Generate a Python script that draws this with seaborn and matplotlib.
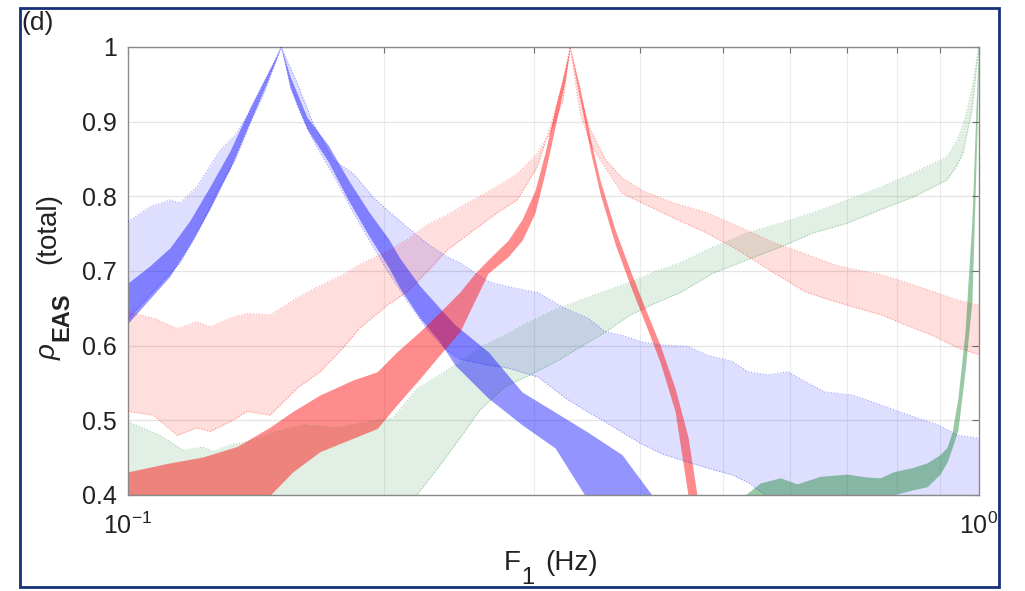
import numpy as np
import pandas as pd
import matplotlib
matplotlib.use("Agg")
import matplotlib.pyplot as plt
import seaborn as sns
from matplotlib.patches import Rectangle
from matplotlib.ticker import FixedLocator, NullFormatter

# ---------------- data ----------------
# blue, dark band
blue_dark_f = [0.1, 0.1061, 0.1120, 0.1183, 0.1248, 0.1318, 0.1391, 0.1449, 0.1513, 0.1550,
               0.1623, 0.1718, 0.1815, 0.1917, 0.2024, 0.2087, 0.2203, 0.2326, 0.2422, 0.2649,
               0.2904, 0.3176, 0.3471, 0.3806, 0.4127]
blue_dark_up = [0.684, 0.707, 0.731, 0.768, 0.813, 0.861, 0.919, 0.959, 1.0, 0.961,
                0.906, 0.869, 0.822, 0.780, 0.743, 0.717, 0.680, 0.650, 0.628, 0.592,
                0.538, 0.511, 0.484, 0.454, 0.400]
blue_dark_lo = [0.630, 0.663, 0.693, 0.736, 0.783, 0.837, 0.900, 0.947, 1.0, 0.945,
                0.890, 0.847, 0.795, 0.748, 0.705, 0.677, 0.637, 0.605, 0.574, 0.530,
                0.494, 0.463, 0.393, 0.353, 0.326]

# blue, light band
blue_light_f = [0.1, 0.1061, 0.1120, 0.1151, 0.1205, 0.1283, 0.1336, 0.1391, 0.1449, 0.1513,
                0.1580, 0.1650, 0.1742, 0.1838, 0.1941, 0.2016, 0.2128, 0.2246, 0.2371, 0.2455,
                0.2649, 0.2796, 0.3033, 0.3263, 0.3471, 0.3636, 0.3806, 0.4018, 0.4242, 0.4550,
                0.4803, 0.5126, 0.5353, 0.5651, 0.5965, 0.6245, 0.6592, 0.7092, 0.7486, 0.8034,
                0.8479, 0.8950, 0.9446, 1.0]
blue_light_up = [0.766, 0.786, 0.795, 0.791, 0.813, 0.862, 0.882, 0.913, 0.953, 1.0,
                 0.952, 0.898, 0.849, 0.831, 0.799, 0.782, 0.759, 0.737, 0.719, 0.711,
                 0.686, 0.679, 0.671, 0.650, 0.637, 0.619, 0.614, 0.605, 0.601, 0.599,
                 0.587, 0.579, 0.565, 0.561, 0.565, 0.552, 0.538, 0.534, 0.525, 0.512,
                 0.503, 0.494, 0.480, 0.476]
blue_light_lo = [0.636, 0.668, 0.697, 0.711, 0.750, 0.814, 0.849, 0.898, 0.942, 1.0,
                 0.922, 0.875, 0.829, 0.779, 0.732, 0.701, 0.660, 0.622, 0.593, 0.582,
                 0.574, 0.570, 0.558, 0.530, 0.511, 0.498, 0.484, 0.468, 0.455, 0.444,
                 0.436, 0.427, 0.417, 0.397, 0.380, 0.380, 0.380, 0.380, 0.380, 0.380,
                 0.380, 0.380, 0.380, 0.380]

# red, dark band
red_dark_f = [0.1, 0.1120, 0.1225, 0.1343, 0.1469, 0.1562, 0.1681, 0.1838, 0.1962, 0.2071,
              0.2203, 0.2326, 0.2455, 0.2557, 0.2649, 0.2796, 0.2904, 0.3008, 0.3090, 0.3176,
              0.3263, 0.3307, 0.3398, 0.3491, 0.3586, 0.3736, 0.3891, 0.4052, 0.4219, 0.4394,
              0.4550, 0.4663]
red_dark_up = [0.431, 0.443, 0.451, 0.465, 0.491, 0.512, 0.534, 0.554, 0.565, 0.592,
               0.619, 0.645, 0.672, 0.697, 0.715, 0.741, 0.769, 0.808, 0.858, 0.918,
               0.972, 1.0, 0.944, 0.879, 0.822, 0.755, 0.701, 0.650, 0.601, 0.543,
               0.478, 0.400]
red_dark_lo = [0.387, 0.391, 0.393, 0.396, 0.400, 0.431, 0.458, 0.476, 0.489, 0.521,
               0.556, 0.588, 0.619, 0.661, 0.697, 0.719, 0.741, 0.778, 0.831, 0.893,
               0.956, 1.0, 0.930, 0.862, 0.804, 0.736, 0.681, 0.630, 0.578, 0.512,
               0.400, 0.385]

# red, light band
red_light_f = [0.1, 0.1070, 0.1142, 0.1205, 0.1248, 0.1318, 0.1380, 0.1469, 0.1580, 0.1681,
               0.1789, 0.1874, 0.2016, 0.2128, 0.2246, 0.2371, 0.2523, 0.2714, 0.2865, 0.3025,
               0.3133, 0.3245, 0.3307, 0.3398, 0.3491, 0.3636, 0.3806, 0.4018, 0.4357, 0.4764,
               0.5211, 0.5711, 0.6245, 0.6775, 0.7210, 0.7691, 0.8185, 0.8806, 0.9446, 1.0]
red_light_up = [0.645, 0.637, 0.623, 0.632, 0.625, 0.637, 0.643, 0.641, 0.664, 0.680,
                0.695, 0.709, 0.726, 0.742, 0.762, 0.775, 0.793, 0.813, 0.830, 0.857,
                0.885, 0.929, 1.0, 0.933, 0.890, 0.850, 0.825, 0.808, 0.792, 0.779,
                0.760, 0.739, 0.723, 0.708, 0.701, 0.695, 0.685, 0.673, 0.661, 0.654]
red_light_lo = [0.512, 0.507, 0.480, 0.490, 0.485, 0.498, 0.512, 0.507, 0.543, 0.565,
                0.597, 0.624, 0.654, 0.672, 0.699, 0.728, 0.751, 0.778, 0.795, 0.839,
                0.893, 0.952, 1.0, 0.911, 0.871, 0.839, 0.804, 0.791, 0.772, 0.752,
                0.728, 0.699, 0.672, 0.659, 0.650, 0.641, 0.628, 0.614, 0.597, 0.588]

# green, light band
green_light_f = [0.1, 0.1090, 0.1161, 0.1225, 0.1259, 0.1318, 0.1380, 0.1488, 0.1606, 0.1760,
                 0.1962, 0.2048, 0.2185, 0.2326, 0.2455, 0.2592, 0.2773, 0.2968, 0.3176, 0.3398,
                 0.3636, 0.3891, 0.4163, 0.4453, 0.4868, 0.5339, 0.5839, 0.6384, 0.6998, 0.7655,
                 0.8365, 0.9172, 0.9424, 0.9577, 0.9707, 0.9812, 0.9947, 1.0]
green_light_up = [0.498, 0.480, 0.460, 0.464, 0.458, 0.467, 0.471, 0.484, 0.494, 0.490,
                  0.500, 0.503, 0.542, 0.561, 0.578, 0.598, 0.614, 0.632, 0.648, 0.661,
                  0.673, 0.685, 0.699, 0.711, 0.732, 0.751, 0.764, 0.778, 0.795, 0.812,
                  0.831, 0.853, 0.875, 0.896, 0.920, 0.945, 0.985, 1.0]
green_light_lo = [0.380, 0.380, 0.381, 0.382, 0.382, 0.383, 0.384, 0.385, 0.386, 0.387,
                  0.388, 0.391, 0.400, 0.440, 0.476, 0.514, 0.545, 0.561, 0.578, 0.598,
                  0.618, 0.641, 0.657, 0.671, 0.697, 0.715, 0.732, 0.751, 0.764, 0.782,
                  0.799, 0.822, 0.842, 0.858, 0.891, 0.916, 0.980, 1.0]

# green, dark band
green_dark_f = [0.5309, 0.5531, 0.5839, 0.6113, 0.6507, 0.6998, 0.7385, 0.7655, 0.7926, 0.8365,
                0.8688, 0.9000, 0.9172, 0.9296, 0.9446, 0.9628, 0.9812, 0.9947, 1.0]
green_dark_up = [0.400, 0.416, 0.423, 0.415, 0.425, 0.428, 0.424, 0.423, 0.431, 0.437,
                 0.443, 0.454, 0.464, 0.484, 0.530, 0.618, 0.771, 0.958, 1.0]
green_dark_lo = [0.393, 0.387, 0.387, 0.387, 0.387, 0.387, 0.387, 0.387, 0.400, 0.407,
                 0.411, 0.428, 0.444, 0.463, 0.487, 0.565, 0.661, 0.889, 1.0]

y_ticks = [0.4, 0.5, 0.6, 0.7, 0.8, 0.9, 1.0]
y_ticklabels = ["0.4", "0.5", "0.6", "0.7", "0.8", "0.9", "1"]
x_major = [0.1, 1.0]
x_major_labels = [r"$10^{-1}$", r"$10^{0}$"]
x_minor = [0.2, 0.3, 0.4, 0.5, 0.6, 0.7, 0.8, 0.9]

# ---------------- styling ----------------
sns.set_theme(style="white")
plt.rcParams['font.family'] = ['Liberation Sans', 'DejaVu Sans']
plt.rcParams['mathtext.fontset'] = 'custom'
plt.rcParams['mathtext.rm'] = 'Liberation Sans'
plt.rcParams['mathtext.it'] = 'Liberation Sans:italic'
plt.rcParams['mathtext.bf'] = 'Liberation Sans:bold'

TXT = '#222222'
BLUE = (0.0, 0.0, 1.0)
RED = (1.0, 0.0, 0.0)
GREEN = (0.05, 0.5, 0.15)

W, H = 1025, 591
fig = plt.figure(figsize=(W / 100, H / 100), dpi=100)
ax = fig.add_axes([128 / W, 1 - 495 / H, (979 - 128) / W, (495 - 47) / H])
ax.set_xscale('log')
ax.set_xlim(0.1, 1.0)
ax.set_ylim(0.4, 1.0)

bands = [
    (blue_light_f, blue_light_lo, blue_light_up, BLUE, 0.13, True),
    (red_light_f, red_light_lo, red_light_up, RED, 0.13, True),
    (green_light_f, green_light_lo, green_light_up, GREEN, 0.12, True),
    (blue_dark_f, blue_dark_lo, blue_dark_up, BLUE, 0.42, False),
    (red_dark_f, red_dark_lo, red_dark_up, RED, 0.45, False),
    (green_dark_f, green_dark_lo, green_dark_up, GREEN, 0.42, False),
]

for f, lo, up, col, a, edged in bands:
    ax.fill_between(f, lo, up, color=col, alpha=a, linewidth=0, zorder=2)
    if edged:
        for yv in (lo, up):
            df = pd.DataFrame({"f": f, "v": yv})
            sns.lineplot(data=df, x="f", y="v", ax=ax, color=col, alpha=0.35,
                         linewidth=0.8, linestyle=":", estimator=None, sort=False,
                         zorder=3)

# axes decoration
ax.set_yticks(y_ticks)
ax.set_yticklabels(y_ticklabels)
ax.xaxis.set_major_locator(FixedLocator(x_major))
ax.set_xticklabels(x_major_labels)
ax.xaxis.set_minor_locator(FixedLocator(x_minor))
ax.xaxis.set_minor_formatter(NullFormatter())
ax.yaxis.set_minor_locator(FixedLocator([]))

ax.grid(True, which='major', axis='y', color='#e4e4e4', linewidth=0.9, zorder=0)
ax.grid(True, which='minor', axis='x', color='#ececec', linewidth=0.8, zorder=0)
ax.set_axisbelow(True)

for sp in ax.spines.values():
    sp.set_color('#8a8a8a')
    sp.set_linewidth(1.0)
    sp.set_visible(True)

ax.tick_params(axis='both', which='both', direction='in', top=True, right=True,
               color='#6e6e6e', width=0.8)
ax.tick_params(axis='both', which='major', length=5, labelsize=18, labelcolor=TXT)
ax.tick_params(axis='x', which='minor', length=4)
ax.tick_params(axis='y', which='major', pad=8)
ax.tick_params(axis='x', which='major', pad=13)
ax.set_xlabel("")
ax.set_ylabel("")

# y-axis label: rho_EAS (total), rotated
fig.text(49 / W, 1 - 352 / H, "\u03c1", fontsize=20, style='italic', color=TXT,
         rotation=90, ha='center', va='center')
fig.text(62 / W, 1 - 317 / H, "EAS", fontsize=17, fontweight='bold', color=TXT,
         rotation=90, ha='center', va='center')
fig.text(48 / W, 1 - 228 / H, "(total)", fontsize=20, color=TXT,
         rotation=90, ha='center', va='center')

# x-axis label: F_1 (Hz)
fig.text(504 / W, 1 - 570 / H, "F", fontsize=20, color=TXT, ha='left', va='baseline')
fig.text(521 / W, 1 - 584 / H, "1", fontsize=17, color=TXT, ha='left', va='baseline')
fig.text(545 / W, 1 - 570 / H, "(Hz)", fontsize=20, color=TXT, ha='left', va='baseline')

fig.text(21 / W, 1 - 11 / H, "(d)", fontsize=19, color=TXT, ha='left', va='top')

fig.patches.append(Rectangle((20 / W, 1 - 587 / H), (999 - 20) / W, (587 - 8) / H,
                             transform=fig.transFigure, fill=False,
                             edgecolor='#16307a', linewidth=2.0, zorder=10))

fig.savefig("out.png", dpi=100, facecolor='white')
